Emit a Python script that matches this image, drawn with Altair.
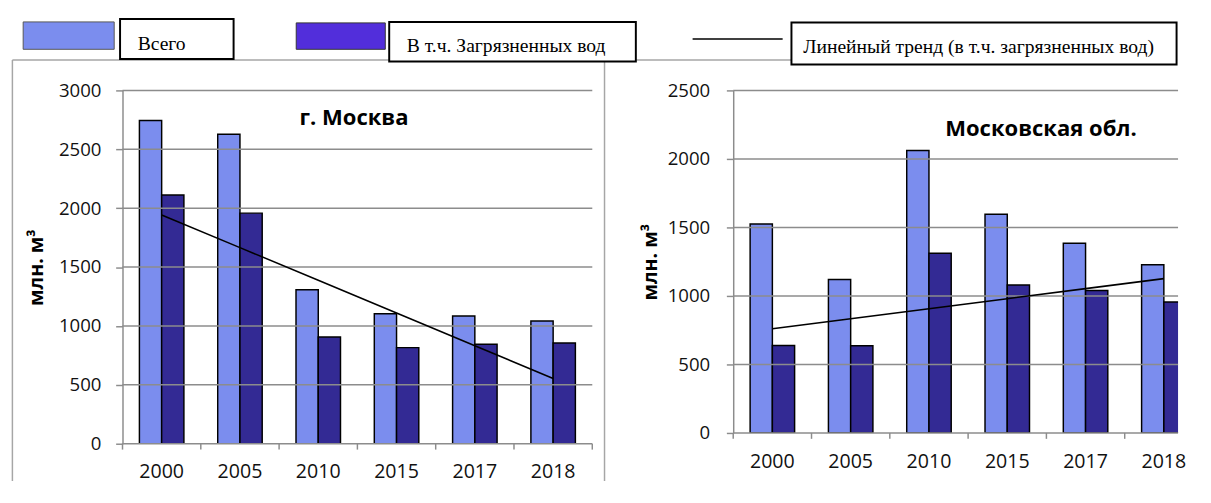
import altair as alt
import pandas as pd
import numpy as np

years = ["2000", "2005", "2010", "2015", "2017", "2018"]
series_names = ["Всего", "В т.ч. Загрязненных вод"]
trend_name = "Линейный тренд (в т.ч. загрязненных вод)"

moscow_total = [2745, 2628, 1307, 1103, 1084, 1043]
moscow_polluted = [2112, 1958, 907, 816, 844, 855]
oblast_total = [1525, 1120, 2062, 1597, 1385, 1227]
oblast_polluted = [639, 636, 1311, 1080, 1039, 956]

moscow_yticks = [0, 500, 1000, 1500, 2000, 2500, 3000]
oblast_yticks = [0, 500, 1000, 1500, 2000, 2500]

title_moscow = "г. Москва"
title_oblast = "Московская обл."
y_title = "млн. м³"

LIGHT = "#7B8DEE"
DARK = "#332A94"
LEGEND_DARK = "#522EDB"
GRID = "#8C8C8C"
FRAME = "#A6A6A6"
AXIS_FONT = "Open Sans"
LEGEND_FONT = "Liberation Serif"

# usable right edge of the page (window 1211 minus the 8px body margin)
PAGE_R = 1203
# lowest drawn pixel row (keeps the page from scrolling)
PAGE_B = 486
# left plot origin in page pixels
OX, OY = 124.5, 87
# right plot origin x in page pixels
RX0 = 748.5


def rx(x):
    return x - OX


def ry(y):
    return y - OY


one = alt.InlineData(values=[{"k": 1}])


def bars_df(total, polluted):
    rows = []
    for yr, t, p in zip(years, total, polluted):
        rows.append({"year": yr, "series": series_names[0], "value": t})
        rows.append({"year": yr, "series": series_names[1], "value": p})
    return pd.DataFrame(rows)


def trend_df(polluted):
    idx = np.arange(1, len(years) + 1)
    slope, intercept = np.polyfit(idx, np.array(polluted, dtype=float), 1)
    return pd.DataFrame({"year": years, "trend": intercept + slope * idx})


def panel(total, polluted, yticks, width, height, band_range, title, tx, ty,
          label_pad, title_pad, end_tick):
    ymax = max(yticks)
    xscale = alt.Scale(paddingInner=0, paddingOuter=0, range=[0, band_range])
    y_enc = alt.Y(
        "value:Q",
        scale=alt.Scale(domain=[0, ymax], nice=False),
        axis=alt.Axis(
            title=y_title,
            titleFont=AXIS_FONT,
            titleFontSize=20,
            titleFontWeight="bold",
            titleColor="#000000",
            titlePadding=title_pad,
            values=yticks,
            format="d",
            grid=False,
            tickSize=7,
            tickWidth=1.5,
            tickColor=GRID,
            domainColor=GRID,
            domainWidth=1.5,
            labelFont=AXIS_FONT,
            labelFontSize=19,
            labelColor="#111111",
            labelPadding=label_pad,
        ),
    )
    grid = alt.Chart(pd.DataFrame({"value": yticks[1:]})).mark_rule(
        color=GRID, strokeWidth=1.5
    ).encode(
        y=alt.Y("value:Q"),
        x=alt.value(0),
        x2=alt.value(width),
    )
    bars = alt.Chart(bars_df(total, polluted)).mark_bar(
        stroke="black", strokeWidth=1.5, clip=True
    ).encode(
        x=alt.X(
            "year:N",
            sort=years,
            scale=xscale,
            axis=alt.Axis(
                title=None,
                labelAngle=0,
                ticks=False,
                domain=False,
                labelFont=AXIS_FONT,
                labelFontSize=20,
                labelColor="#111111",
                labelPadding=19,
            ),
        ),
        xOffset=alt.XOffset(
            "series:N",
            sort=series_names,
            scale=alt.Scale(paddingInner=0, paddingOuter=0.76),
        ),
        y=y_enc,
        color=alt.Color(
            "series:N",
            scale=alt.Scale(domain=series_names, range=[LIGHT, DARK]),
            legend=None,
        ),
    )
    # band-boundary ticks below the x axis
    ticks = alt.Chart(pd.DataFrame({"year": years})).mark_rule(
        color=GRID, strokeWidth=1.5
    ).encode(
        x=alt.X("year:N", sort=years, bandPosition=0),
        y=alt.value(height),
        y2=alt.value(height + 6),
    )
    domain = alt.Chart(one).mark_rule(color=GRID, strokeWidth=1.5).encode(
        x=alt.value(0), x2=alt.value(width), y=alt.value(height), y2=alt.value(height)
    )
    extra = []
    if end_tick:
        extra.append(
            alt.Chart(one).mark_rule(color=GRID, strokeWidth=1.5).encode(
                x=alt.value(band_range), x2=alt.value(band_range),
                y=alt.value(height), y2=alt.value(height + 6),
            )
        )
    trend = alt.Chart(trend_df(polluted)).mark_line(
        color="black", strokeWidth=1.6
    ).encode(
        x=alt.X("year:N", sort=years),
        y=alt.Y("trend:Q"),
    )
    ttl = alt.Chart(one).mark_text(
        text=title,
        font=AXIS_FONT,
        fontSize=22.5,
        fontWeight="bold",
        color="#000000",
        align="center",
        baseline="middle",
    ).encode(x=alt.value(tx), y=alt.value(ty))
    return [bars, grid, domain, ticks] + extra + [trend, ttl]


# ---------- frame + legend, drawn in page coordinates ----------
anchor = alt.Chart(one).mark_rect(opacity=0).encode(
    x=alt.value(rx(8)), x2=alt.value(rx(9)), y=alt.value(ry(8)), y2=alt.value(ry(9))
)


def hline(x1, x2, y, color, sw):
    return alt.Chart(one).mark_rule(color=color, strokeWidth=sw).encode(
        x=alt.value(rx(x1)), x2=alt.value(rx(x2)), y=alt.value(ry(y)), y2=alt.value(ry(y))
    )


def vline(x, y1, y2, color, sw):
    return alt.Chart(one).mark_rule(color=color, strokeWidth=sw).encode(
        x=alt.value(rx(x)), x2=alt.value(rx(x)), y=alt.value(ry(y1)), y2=alt.value(ry(y2))
    )


def box(x1, y1, x2, y2, fill, stroke, sw):
    return alt.Chart(one).mark_rect(fill=fill, stroke=stroke, strokeWidth=sw).encode(
        x=alt.value(rx(x1)), x2=alt.value(rx(x2)), y=alt.value(ry(y1)), y2=alt.value(ry(y2))
    )


def label(x, y, txt):
    return alt.Chart(one).mark_text(
        text=txt, font=LEGEND_FONT, fontSize=20, color="#000000",
        align="left", baseline="alphabetic",
    ).encode(x=alt.value(rx(x)), y=alt.value(ry(y)))


decor = [
    anchor,
    hline(12, PAGE_R - 1, 56, FRAME, 1.5),
    vline(12, 56, PAGE_B, FRAME, 1.5),
    vline(617, 56, PAGE_B, FRAME, 1.5),
    box(23, 17, 116, 45, LIGHT, "#555555", 1),
    box(122, 14, 238, 55, "white", "black", 2),
    label(140, 45.5, series_names[0]),
    box(302, 18, 393, 45, LEGEND_DARK, "#333333", 1),
    box(397, 17, 649, 57.5, "white", "black", 2),
    label(415, 48, series_names[1]),
    hline(707, 799, 34.5, "black", 1.6),
    box(808, 17.5, PAGE_R - 1.5, 60.5, "white", "black", 2),
    label(820, 48.5, trend_name),
]

left_layers = panel(moscow_total, moscow_polluted, moscow_yticks, 480, 361, 480,
                    title_moscow, 361 - OX, 115 - OY, 15, 12, True)
left = alt.layer(*left_layers, *decor).properties(width=480, height=361)

right_w = PAGE_R - RX0
right_layers = panel(oblast_total, oblast_polluted, oblast_yticks, right_w, 350, 480,
                     title_oblast, 1063 - RX0, 127 - OY, 17, 7, False)
right = alt.layer(*right_layers).properties(width=right_w, height=350)

chart = alt.hconcat(left, right, spacing=RX0 - OX - 480, bounds="flush").properties(
    padding={"left": 0, "top": 0, "right": 0, "bottom": 0}, background="white"
).configure_view(strokeWidth=0)

chart.save("out.html", embed_options={"renderer": "svg", "actions": False})
